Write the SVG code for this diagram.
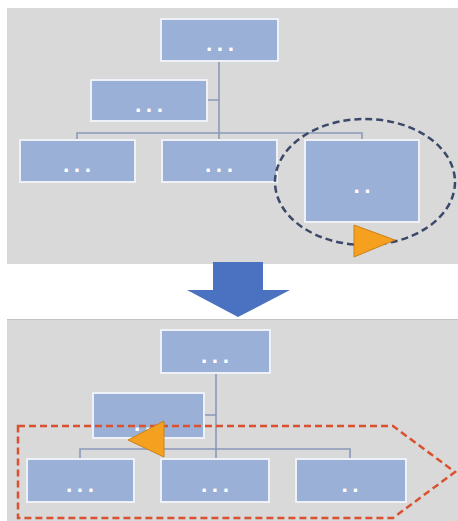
<svg xmlns="http://www.w3.org/2000/svg" width="458" height="521" viewBox="0 0 458 521">
<style>
.panel{fill:#D9D9D9}
.node rect{fill:#9BB0D6;stroke:#EEF2F8;stroke-width:2}
.node text{fill:#FFFFFF;font-family:"DejaVu Sans",sans-serif;font-size:18px;font-weight:bold;text-anchor:middle;letter-spacing:4px}
.conn{fill:none;stroke:#8A98B8;stroke-width:1.6}
.tri{fill:#F5A01E;stroke:#C9821A;stroke-width:1}
</style>
<rect width="458" height="521" fill="#FFFFFF"/>
<rect class="panel" x="7" y="8" width="451" height="256"/>
<rect class="panel" x="7" y="319" width="451" height="202"/>
<line x1="7" y1="319.5" x2="458" y2="319.5" stroke="#C4C4C4" stroke-width="1"/>

<g id="connectors">
<path class="conn" d="M219 61V140M207 100H219M77 140V133H362V140"/>
<path class="conn" d="M216 373V460M204 415H216M80 459V449H350V459"/>
</g>

<g id="top-root" class="node"><rect x="161" y="19" width="117" height="42"/><text x="222" y="51">...</text></g>
<g id="top-assistant" class="node"><rect x="91" y="80" width="116" height="41"/><text x="151" y="112">...</text></g>
<g id="top-left" class="node"><rect x="20" y="140" width="115" height="42"/><text x="79" y="172">...</text></g>
<g id="top-mid" class="node"><rect x="162" y="140" width="115" height="42"/><text x="221" y="172">...</text></g>
<g id="top-right" class="node"><rect x="305" y="140" width="114" height="82"/><text x="364" y="193">..</text></g>

<ellipse id="ellipse-highlight" cx="365" cy="182" rx="90" ry="63" fill="none" stroke="#3B4868" stroke-width="2.5" stroke-dasharray="7,4"/>
<polygon id="tri-right" class="tri" points="354,225 395,240 354,257"/>

<polygon id="down-arrow" points="213,262 263,262 263,290 290,290 238,317 187,290 213,290" fill="#4A72C0"/>

<g id="bot-root" class="node"><rect x="161" y="330" width="109" height="43"/><text x="217" y="363">...</text></g>
<g id="bot-assistant" class="node"><rect x="93" y="393" width="111" height="45"/><text x="150" y="431">...</text></g>
<g id="bot-left" class="node"><rect x="27" y="459" width="107" height="43"/><text x="82" y="492">...</text></g>
<g id="bot-mid" class="node"><rect x="161" y="459" width="108" height="43"/><text x="217" y="492">...</text></g>
<g id="bot-right" class="node"><rect x="296" y="459" width="110" height="43"/><text x="352" y="492">..</text></g>

<polygon id="pentagon-highlight" points="18,426 393,426 455,472 393,518 18,518" fill="none" stroke="#D9512E" stroke-width="2.5" stroke-dasharray="7,4"/>
<polygon id="tri-left" class="tri" points="128,440 164,421 164,457"/>
</svg>
